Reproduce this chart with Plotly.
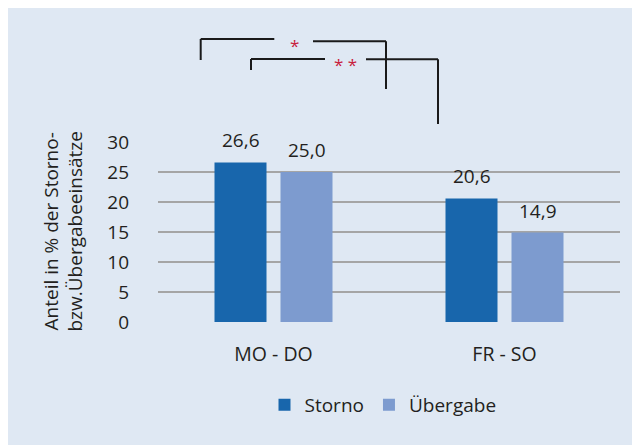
import plotly.graph_objects as go

categories = ["MO - DO", "FR - SO"]
storno = [26.6, 20.6]
uebergabe = [25.0, 14.9]
series_names = ["Storno", "Übergabe"]
y_ticks = [0, 5, 10, 15, 20, 25, 30]

W, H = 640, 445
OFF = 8  # page offset of the figure inside the browser window
ML, MT = 158 - OFF, 142 - OFF
PW, PH = 462, 180
MR = W - ML - PW
MB = H - MT - PH


def px(x):
    return (x - OFF - ML) / PW


def py(y):
    return (MT + PH - (y - OFF)) / PH


FONT = "Open Sans"
TXT = "#231f20"
C1 = "#1866ac"
C2 = "#7d9bcf"
FS = 19

fig = go.Figure()
fig.add_trace(go.Bar(x=categories, y=storno, name=series_names[0], marker=dict(color=C1, line=dict(width=0))))
fig.add_trace(go.Bar(x=categories, y=uebergabe, name=series_names[1], marker=dict(color=C2, line=dict(width=0))))

ann = []
for i, c in enumerate(categories):
    for vals, sh in ((storno, -33), (uebergabe, 33)):
        ann.append(dict(x=c, y=vals[i], xref="x", yref="y", xshift=sh, yshift=22,
                        text=f"{vals[i]:.1f}".replace(".", ","), showarrow=False,
                        yanchor="middle", font=dict(family=FONT, size=FS, color=TXT)))

ann.append(dict(x=px(62.5), y=py(232), xref="paper", yref="paper", textangle=-90,
                text="Anteil in % der Storno-<br>bzw.Übergabeeinsätze", showarrow=False,
                xanchor="center", yanchor="middle", font=dict(family=FONT, size=FS, color=TXT)))

ann.append(dict(x=px(294), y=py(46), xref="paper", yref="paper", text="*", showarrow=False,
                xanchor="center", yanchor="middle", font=dict(family=FONT, size=17, color="#c8203c")))
ann.append(dict(x=px(345), y=py(64), xref="paper", yref="paper", text="* *", showarrow=False,
                xanchor="center", yanchor="middle", font=dict(family=FONT, size=17, color="#c8203c")))

shapes = [dict(type="rect", xref="paper", yref="paper", x0=px(7), x1=px(700), y0=py(500), y1=py(7),
               fillcolor="#dfe8f3", line=dict(width=0), layer="below")]

bracket_lines = [
    (200.7, 60, 200.7, 39), (200.7, 39, 274.3, 39),
    (313, 41.3, 386, 41.3), (386, 41.3, 386, 89),
    (251, 70, 251, 59), (251, 59, 325, 59),
    (366, 59.3, 438, 59.3), (438, 59.3, 438, 124),
]
for x0, y0, x1, y1 in bracket_lines:
    shapes.append(dict(type="line", xref="paper", yref="paper", x0=px(x0), y0=py(y0), x1=px(x1), y1=py(y1),
                       line=dict(color="#1a1a1a", width=2)))

fig.update_layout(
    width=W, height=H,
    margin=dict(l=ML, r=MR, t=MT, b=MB),
    paper_bgcolor="white", plot_bgcolor="rgba(0,0,0,0)",
    barmode="group", bargap=0.4286, bargroupgap=0.212,
    font=dict(family=FONT, size=FS, color=TXT),
    showlegend=True,
    legend=dict(orientation="h", x=px(383), y=py(405), xanchor="center", yanchor="middle",
                bgcolor="rgba(0,0,0,0)", font=dict(size=19, color=TXT), itemwidth=30),
    annotations=ann, shapes=shapes,
)
fig.update_xaxes(showgrid=False, showline=False, zeroline=False, ticks="outside", ticklen=15,
                 tickcolor="rgba(0,0,0,0)", tickfont=dict(size=19.5, color=TXT))
fig.update_yaxes(range=[0, 30], tickvals=y_ticks, showgrid=True, gridcolor="#a5a5a5", gridwidth=1.5,
                 zeroline=False, showline=False, ticklabelstandoff=28,
                 tickfont=dict(size=FS, color=TXT))

fig.write_html("out.html")
